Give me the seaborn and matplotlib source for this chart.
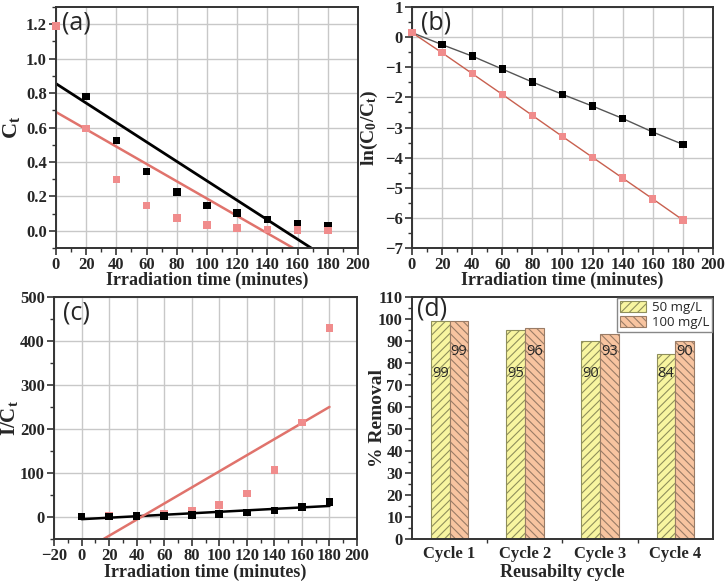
import numpy as np
import pandas as pd
import matplotlib
matplotlib.use("Agg")
import matplotlib.pyplot as plt
import seaborn as sns
from matplotlib.ticker import MultipleLocator, FixedLocator, FormatStrFormatter

# ---------------- data ----------------
time = [0, 20, 40, 60, 80, 100, 120, 140, 160, 180]

# (a) Ct
time_a_black = [20, 40, 60, 80, 100, 120, 140, 160, 180]
ct_black = [0.78, 0.525, 0.345, 0.225, 0.147, 0.103, 0.065, 0.042, 0.030]
ct_pink = [1.19, 0.595, 0.298, 0.148, 0.073, 0.035, 0.015, 0.007, 0.003, 0.001]
fit_a_black = (0.855, -0.00565)   # intercept, slope
fit_a_pink = (0.69, -0.00503)

# (b) ln(C0/Ct)
ln_black = [0.15, -0.25, -0.63, -1.06, -1.49, -1.90, -2.29, -2.70, -3.15, -3.56]
ln_pink = [0.15, -0.52, -1.21, -1.90, -2.60, -3.30, -3.99, -4.68, -5.37, -6.07]

# (c) 1/Ct
inv_black = [1.2, 1.3, 1.9, 2.0, 4.0, 6.5, 10, 15, 23, 34]
inv_pink = [1, 2, 3, 7, 14, 27, 53, 107, 215, 430]
fit_c_black = (-5.0, 0.167)
fit_c_pink = (-79.3, 1.83)
fit_x = [0, 180]

# (d) removal
cycles = ["Cycle 1", "Cycle 2", "Cycle 3", "Cycle 4"]
removal_50 = [99, 95, 90, 84]
removal_100 = [99, 96, 93, 90]
conc_labels = ["50 mg/L", "100 mg/L"]

# ---------------- style ----------------
sns.set_style("ticks")
plt.rcParams["font.family"] = ["Liberation Serif", "DejaVu Serif"]
plt.rcParams["font.weight"] = "bold"
plt.rcParams["mathtext.fontset"] = "custom"
plt.rcParams["mathtext.rm"] = "Liberation Serif:bold"
plt.rcParams["mathtext.bf"] = "Liberation Serif:bold"
plt.rcParams["mathtext.it"] = "Liberation Serif:bold"
plt.rcParams["hatch.linewidth"] = 0.8

BLACK = "#000000"
PINK = "#f08c8c"
PINK_LINE = "#e0736c"
GRID = "#c8c8c8"
SPINE = "#333333"

fig = plt.figure(figsize=(7.27, 5.84), dpi=100)
ax_a = fig.add_axes([0.0770, 0.5753, 0.4154, 0.4127])
ax_b = fig.add_axes([0.5667, 0.5753, 0.4140, 0.4127])
ax_c = fig.add_axes([0.0743, 0.0771, 0.4168, 0.4144])
ax_d = fig.add_axes([0.5667, 0.0771, 0.4140, 0.4144])


def style_axes(ax, grid=True):
    for s in ax.spines.values():
        s.set_visible(True)
        s.set_linewidth(1.4)
        s.set_color(SPINE)
    ax.tick_params(which="major", direction="out", length=5, width=1.2,
                   labelsize=12, color=SPINE, pad=1.5)
    ax.tick_params(which="minor", direction="out", length=3, width=1.0,
                   color=SPINE)
    if grid:
        ax.grid(True, which="major", color=GRID, linewidth=1.0)
        ax.set_axisbelow(True)


def panel_label(ax, txt, x=0.02, y=0.985):
    ax.text(x, y, txt, transform=ax.transAxes, ha="left", va="top",
            fontsize=18, family="Open Sans", fontweight="normal", zorder=10)


XLAB = dict(fontsize=13, fontweight="bold")

# ---------- (a) ----------
fa = np.array(fit_x, dtype=float)
sns.lineplot(x=fa, y=fit_a_black[0] + fit_a_black[1] * fa, ax=ax_a,
             color=BLACK, linewidth=2.0)
sns.lineplot(x=fa, y=fit_a_pink[0] + fit_a_pink[1] * fa, ax=ax_a,
             color=PINK_LINE, linewidth=1.8)
sns.scatterplot(x=time_a_black, y=ct_black, ax=ax_a, marker="s", s=30,
                color=BLACK, edgecolor="none", zorder=5)
sns.scatterplot(x=time, y=ct_pink, ax=ax_a, marker="s", s=30,
                color=PINK, edgecolor="none", zorder=5, clip_on=False)
ax_a.set_xlim(0, 200)
ax_a.set_ylim(-0.1, 1.3)
ax_a.xaxis.set_major_locator(MultipleLocator(20))
ax_a.xaxis.set_minor_locator(MultipleLocator(10))
ax_a.yaxis.set_major_locator(FixedLocator([0.0, 0.2, 0.4, 0.6, 0.8, 1.0, 1.2]))
ax_a.yaxis.set_minor_locator(MultipleLocator(0.1))
ax_a.yaxis.set_major_formatter(FormatStrFormatter("%.1f"))
ax_a.set_xlabel("Irradiation time (minutes)", **XLAB)
ax_a.set_ylabel(r"C$_\mathrm{t}$", fontsize=16, fontweight="bold")
style_axes(ax_a)
panel_label(ax_a, "(a)")

# ---------- (b) ----------
sns.lineplot(x=time, y=ln_black, ax=ax_b, color="#555555", linewidth=1.0)
sns.lineplot(x=time, y=ln_pink, ax=ax_b, color="#c8604f", linewidth=1.0)
sns.scatterplot(x=time, y=ln_black, ax=ax_b, marker="s", s=28,
                color=BLACK, edgecolor="none", zorder=5, clip_on=False)
sns.scatterplot(x=time, y=ln_pink, ax=ax_b, marker="s", s=28,
                color=PINK, edgecolor="none", zorder=5, clip_on=False)
ax_b.set_xlim(0, 200)
ax_b.set_ylim(-7, 1)
ax_b.xaxis.set_major_locator(MultipleLocator(20))
ax_b.xaxis.set_minor_locator(MultipleLocator(10))
ax_b.yaxis.set_major_locator(MultipleLocator(1))
ax_b.yaxis.set_minor_locator(MultipleLocator(0.5))
ax_b.set_xlabel("Irradiation time (minutes)", **XLAB)
ax_b.set_ylabel(r"ln(C$_\mathrm{0}$/C$_\mathrm{t}$)", fontsize=14,
                fontweight="bold")
style_axes(ax_b)
panel_label(ax_b, "(b)", x=0.03)

# ---------- (c) ----------
fc = np.array(fit_x, dtype=float)
sns.lineplot(x=fc, y=fit_c_black[0] + fit_c_black[1] * fc, ax=ax_c,
             color=BLACK, linewidth=1.8)
sns.lineplot(x=fc, y=fit_c_pink[0] + fit_c_pink[1] * fc, ax=ax_c,
             color=PINK_LINE, linewidth=1.8)
sns.scatterplot(x=time, y=inv_black, ax=ax_c, marker="s", s=30,
                color=BLACK, edgecolor="none", zorder=5)
sns.scatterplot(x=time, y=inv_pink, ax=ax_c, marker="s", s=30,
                color=PINK, edgecolor="none", zorder=4)
ax_c.set_xlim(-20, 200)
ax_c.set_ylim(-50, 500)
ax_c.xaxis.set_major_locator(MultipleLocator(20))
ax_c.xaxis.set_minor_locator(MultipleLocator(10))
ax_c.yaxis.set_major_locator(MultipleLocator(100))
ax_c.yaxis.set_minor_locator(MultipleLocator(50))
ax_c.set_xlabel("Irradiation time (minutes)", **XLAB)
ax_c.set_ylabel(r"I/C$_\mathrm{t}$", fontsize=15, fontweight="bold")
style_axes(ax_c)
panel_label(ax_c, "(c)", x=0.03)

# ---------- (d) ----------
df = pd.DataFrame({
    "cycle": cycles * 2,
    "removal": removal_50 + removal_100,
    "conc": [conc_labels[0]] * 4 + [conc_labels[1]] * 4,
})
sns.barplot(data=df, x="cycle", y="removal", hue="conc", ax=ax_d,
            palette=["#f8f5a0", "#f8c4a0"], width=0.5, saturation=1,
            errorbar=None, legend=False)
hatches = ["////", "\\\\\\\\"]
edges = ["#8f8f5c", "#9a7c66"]
label_y = [75, 85]
for i, cont in enumerate(ax_d.containers):
    for p in cont.patches:
        p.set_hatch(hatches[i])
        p.set_edgecolor(edges[i])
        p.set_linewidth(0.8)
    vals = removal_50 if i == 0 else removal_100
    for p, v in zip(cont.patches, vals):
        ax_d.text(p.get_x() + p.get_width() / 2, label_y[i], f"{v}",
                  ha="center", va="center", fontsize=10.5,
                  family="Open Sans", fontweight="normal", zorder=6)
ax_d.legend(ax_d.containers, conc_labels, loc="upper right",
            prop={"family": "Open Sans", "size": 9.5, "weight": "normal"},
            frameon=True, fancybox=False, edgecolor="#888888",
            framealpha=1, handlelength=2.0, handleheight=0.9,
            borderaxespad=0.1, borderpad=0.2, labelspacing=0.15,
            handletextpad=0.4)
ax_d.set_xlim(-0.5, 3.5)
ax_d.set_ylim(0, 110)
ax_d.yaxis.set_major_locator(MultipleLocator(10))
ax_d.yaxis.set_minor_locator(MultipleLocator(5))
ax_d.xaxis.set_minor_locator(FixedLocator([0.5, 1.5, 2.5]))
ax_d.set_xlabel("Reusabilty cycle", **XLAB)
ax_d.set_ylabel("% Removal", fontsize=14, fontweight="bold")
style_axes(ax_d, grid=False)
ax_d.tick_params(axis="x", which="major", length=0, pad=5)
panel_label(ax_d, "(d)", x=0.015, y=1.0)

# label positions
ax_a.yaxis.set_label_coords(-0.112, 0.5)
ax_b.yaxis.set_label_coords(-0.106, 0.5)
ax_c.yaxis.set_label_coords(-0.112, 0.5)
ax_d.yaxis.set_label_coords(-0.088, 0.5)
for ax, yy in [(ax_a, -0.135), (ax_b, -0.135), (ax_c, -0.136), (ax_d, -0.138)]:
    ax.xaxis.set_label_coords(0.5, yy)
    ax.xaxis.label.set_verticalalignment("center")

# make tick labels bold serif
fig.canvas.draw()
for ax in (ax_a, ax_b, ax_c, ax_d):
    for lab in ax.get_xticklabels() + ax.get_yticklabels():
        lab.set_fontweight("bold")
        lab.set_fontsize(12)

fig.savefig("out.png", dpi=100)
